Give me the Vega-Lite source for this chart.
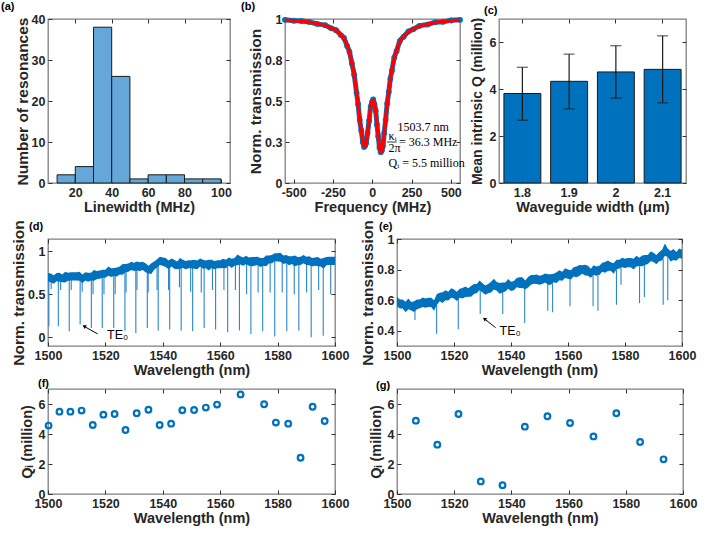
{
  "$schema": "https://vega.github.io/schema/vega-lite/v6.json",
  "padding": {"left": -3, "top": 0, "right": 0, "bottom": 0},
  "background": "white",
  "config": {
    "font": "Liberation Sans",
    "view": {"stroke": "#7f7f7f", "strokeWidth": 1.3},
    "axis": {
      "domain": false,
      "grid": false,
      "labelFont": "Liberation Sans",
      "labelFontSize": 12.5,
      "labelFontWeight": "bold",
      "labelColor": "#262626",
      "labelFlush": false,
      "labelOverlap": false,
      "labelPadding": 7,
      "tickSize": -4,
      "tickColor": "#333333",
      "tickWidth": 1,
      "titleFont": "Liberation Sans",
      "titleFontSize": 14.5,
      "titleFontWeight": "bold",
      "titleColor": "#262626",
      "titlePadding": 2
    },
    "axisY": {"titleFontSize": 15.5, "titlePadding": 1},
    "title": {"font": "Liberation Sans", "fontSize": 11, "fontWeight": "bold", "anchor": "start", "frame": "group", "color": "#000000"}
  },
  "datasets": {
    "hist": [
      {"lo": 10, "hi": 20, "n": 2}, {"lo": 20, "hi": 30, "n": 4}, {"lo": 30, "hi": 40, "n": 38},
      {"lo": 40, "hi": 50, "n": 26}, {"lo": 50, "hi": 60, "n": 1}, {"lo": 60, "hi": 70, "n": 2},
      {"lo": 70, "hi": 80, "n": 2}, {"lo": 80, "hi": 90, "n": 1}, {"lo": 90, "hi": 100, "n": 1}
    ],
    "bMeas": [
      {"f": -555, "t": 0.995}, {"f": -500, "t": 0.99}, {"f": -450, "t": 0.988}, {"f": -400, "t": 0.982},
      {"f": -350, "t": 0.97}, {"f": -300, "t": 0.962}, {"f": -260, "t": 0.943}, {"f": -230, "t": 0.932},
      {"f": -200, "t": 0.902}, {"f": -180, "t": 0.884}, {"f": -160, "t": 0.836}, {"f": -145, "t": 0.8},
      {"f": -130, "t": 0.73}, {"f": -115, "t": 0.66}, {"f": -100, "t": 0.55}, {"f": -90, "t": 0.48},
      {"f": -80, "t": 0.385}, {"f": -70, "t": 0.32}, {"f": -60, "t": 0.25}, {"f": -52, "t": 0.22},
      {"f": -45, "t": 0.228}, {"f": -38, "t": 0.245}, {"f": -30, "t": 0.305}, {"f": -20, "t": 0.38},
      {"f": -10, "t": 0.465}, {"f": 0, "t": 0.498}, {"f": 6, "t": 0.51}, {"f": 14, "t": 0.48},
      {"f": 22, "t": 0.44}, {"f": 30, "t": 0.355}, {"f": 38, "t": 0.285}, {"f": 46, "t": 0.215},
      {"f": 54, "t": 0.188}, {"f": 61, "t": 0.198}, {"f": 68, "t": 0.225}, {"f": 76, "t": 0.305},
      {"f": 85, "t": 0.385}, {"f": 95, "t": 0.485}, {"f": 105, "t": 0.555}, {"f": 115, "t": 0.635},
      {"f": 125, "t": 0.685}, {"f": 140, "t": 0.765}, {"f": 155, "t": 0.805}, {"f": 175, "t": 0.865},
      {"f": 200, "t": 0.892}, {"f": 230, "t": 0.924}, {"f": 260, "t": 0.937}, {"f": 300, "t": 0.958},
      {"f": 350, "t": 0.966}, {"f": 400, "t": 0.98}, {"f": 450, "t": 0.983}, {"f": 500, "t": 0.992},
      {"f": 558, "t": 0.995}
    ],
    "bFit": [
      {"f": -555, "t": 0.993}, {"f": -500, "t": 0.99}, {"f": -450, "t": 0.986}, {"f": -400, "t": 0.98},
      {"f": -350, "t": 0.972}, {"f": -300, "t": 0.96}, {"f": -260, "t": 0.945}, {"f": -230, "t": 0.93},
      {"f": -200, "t": 0.905}, {"f": -180, "t": 0.88}, {"f": -160, "t": 0.84}, {"f": -145, "t": 0.795},
      {"f": -130, "t": 0.735}, {"f": -115, "t": 0.655}, {"f": -100, "t": 0.555}, {"f": -90, "t": 0.475},
      {"f": -80, "t": 0.39}, {"f": -70, "t": 0.315}, {"f": -60, "t": 0.255}, {"f": -52, "t": 0.225},
      {"f": -45, "t": 0.225}, {"f": -38, "t": 0.25}, {"f": -30, "t": 0.3}, {"f": -20, "t": 0.385},
      {"f": -10, "t": 0.46}, {"f": 0, "t": 0.5}, {"f": 6, "t": 0.505}, {"f": 14, "t": 0.485},
      {"f": 22, "t": 0.435}, {"f": 30, "t": 0.36}, {"f": 38, "t": 0.28}, {"f": 46, "t": 0.22},
      {"f": 54, "t": 0.19}, {"f": 61, "t": 0.195}, {"f": 68, "t": 0.23}, {"f": 76, "t": 0.3},
      {"f": 85, "t": 0.39}, {"f": 95, "t": 0.48}, {"f": 105, "t": 0.56}, {"f": 115, "t": 0.63},
      {"f": 125, "t": 0.69}, {"f": 140, "t": 0.76}, {"f": 155, "t": 0.81}, {"f": 175, "t": 0.86},
      {"f": 200, "t": 0.895}, {"f": 230, "t": 0.92}, {"f": 260, "t": 0.94}, {"f": 300, "t": 0.955},
      {"f": 350, "t": 0.968}, {"f": 400, "t": 0.978}, {"f": 450, "t": 0.985}, {"f": 500, "t": 0.99},
      {"f": 558, "t": 0.993}
    ],
    "bText": [
      {"f": 160, "t": 0.34, "s": "1503.7 nm"},
      {"f": 104, "t": 0.287, "s": "κᵢ"},
      {"f": 104, "t": 0.213, "s": "2π"},
      {"f": 170, "t": 0.247, "s": "= 36.3 MHz"},
      {"f": 104, "t": 0.12, "s": "Qᵢ = 5.5 million"}
    ],
    "bRule": [{"f": 94, "f2": 155, "t": 0.25}],
    "qbar": [
      {"w": "1.8", "q": 3.82, "lo": 2.68, "hi": 4.94},
      {"w": "1.9", "q": 4.34, "lo": 3.16, "hi": 5.5},
      {"w": "2", "q": 4.74, "lo": 3.62, "hi": 5.86},
      {"w": "2.1", "q": 4.85, "lo": 3.42, "hi": 6.28}
    ],
    "dBand": [
      {"w": 1500, "lo": 0.65, "hi": 0.745}, {"w": 1501, "lo": 0.635, "hi": 0.74}, {"w": 1502, "lo": 0.62, "hi": 0.72},
      {"w": 1503, "lo": 0.65, "hi": 0.745}, {"w": 1504, "lo": 0.645, "hi": 0.75}, {"w": 1505, "lo": 0.64, "hi": 0.73},
      {"w": 1506, "lo": 0.635, "hi": 0.76}, {"w": 1507, "lo": 0.655, "hi": 0.75}, {"w": 1508, "lo": 0.66, "hi": 0.755},
      {"w": 1509, "lo": 0.66, "hi": 0.755}, {"w": 1510, "lo": 0.66, "hi": 0.755}, {"w": 1511, "lo": 0.655, "hi": 0.76},
      {"w": 1512, "lo": 0.63, "hi": 0.73}, {"w": 1513, "lo": 0.66, "hi": 0.755}, {"w": 1514, "lo": 0.645, "hi": 0.75},
      {"w": 1515, "lo": 0.66, "hi": 0.75}, {"w": 1516, "lo": 0.655, "hi": 0.78}, {"w": 1517, "lo": 0.675, "hi": 0.77},
      {"w": 1518, "lo": 0.68, "hi": 0.775}, {"w": 1519, "lo": 0.69, "hi": 0.785}, {"w": 1520, "lo": 0.69, "hi": 0.785},
      {"w": 1521, "lo": 0.715, "hi": 0.82}, {"w": 1522, "lo": 0.7, "hi": 0.8}, {"w": 1523, "lo": 0.71, "hi": 0.805},
      {"w": 1524, "lo": 0.705, "hi": 0.81}, {"w": 1525, "lo": 0.73, "hi": 0.82}, {"w": 1526, "lo": 0.725, "hi": 0.85},
      {"w": 1527, "lo": 0.755, "hi": 0.85}, {"w": 1528, "lo": 0.76, "hi": 0.855}, {"w": 1529, "lo": 0.78, "hi": 0.875},
      {"w": 1530, "lo": 0.77, "hi": 0.865}, {"w": 1531, "lo": 0.775, "hi": 0.88}, {"w": 1532, "lo": 0.77, "hi": 0.87},
      {"w": 1533, "lo": 0.78, "hi": 0.875}, {"w": 1534, "lo": 0.755, "hi": 0.86}, {"w": 1535, "lo": 0.74, "hi": 0.83},
      {"w": 1536, "lo": 0.735, "hi": 0.86}, {"w": 1537, "lo": 0.785, "hi": 0.88}, {"w": 1538, "lo": 0.81, "hi": 0.905},
      {"w": 1539, "lo": 0.84, "hi": 0.935}, {"w": 1540, "lo": 0.83, "hi": 0.925}, {"w": 1541, "lo": 0.815, "hi": 0.92},
      {"w": 1542, "lo": 0.79, "hi": 0.89}, {"w": 1543, "lo": 0.82, "hi": 0.915}, {"w": 1544, "lo": 0.795, "hi": 0.9},
      {"w": 1545, "lo": 0.79, "hi": 0.88}, {"w": 1546, "lo": 0.795, "hi": 0.92}, {"w": 1547, "lo": 0.805, "hi": 0.9},
      {"w": 1548, "lo": 0.79, "hi": 0.885}, {"w": 1549, "lo": 0.8, "hi": 0.895}, {"w": 1550, "lo": 0.8, "hi": 0.895},
      {"w": 1551, "lo": 0.795, "hi": 0.9}, {"w": 1552, "lo": 0.79, "hi": 0.89}, {"w": 1553, "lo": 0.82, "hi": 0.915},
      {"w": 1554, "lo": 0.795, "hi": 0.9}, {"w": 1555, "lo": 0.8, "hi": 0.89}, {"w": 1556, "lo": 0.775, "hi": 0.9},
      {"w": 1557, "lo": 0.805, "hi": 0.9}, {"w": 1558, "lo": 0.79, "hi": 0.885}, {"w": 1559, "lo": 0.8, "hi": 0.895},
      {"w": 1560, "lo": 0.8, "hi": 0.895}, {"w": 1561, "lo": 0.805, "hi": 0.91}, {"w": 1562, "lo": 0.8, "hi": 0.9},
      {"w": 1563, "lo": 0.83, "hi": 0.925}, {"w": 1564, "lo": 0.805, "hi": 0.91}, {"w": 1565, "lo": 0.83, "hi": 0.92},
      {"w": 1566, "lo": 0.835, "hi": 0.96}, {"w": 1567, "lo": 0.845, "hi": 0.94}, {"w": 1568, "lo": 0.83, "hi": 0.925},
      {"w": 1569, "lo": 0.85, "hi": 0.945}, {"w": 1570, "lo": 0.83, "hi": 0.925}, {"w": 1571, "lo": 0.825, "hi": 0.93},
      {"w": 1572, "lo": 0.83, "hi": 0.93}, {"w": 1573, "lo": 0.84, "hi": 0.935}, {"w": 1574, "lo": 0.815, "hi": 0.92},
      {"w": 1575, "lo": 0.83, "hi": 0.92}, {"w": 1576, "lo": 0.825, "hi": 0.95}, {"w": 1577, "lo": 0.855, "hi": 0.95},
      {"w": 1578, "lo": 0.86, "hi": 0.955}, {"w": 1579, "lo": 0.88, "hi": 0.975}, {"w": 1580, "lo": 0.88, "hi": 0.975},
      {"w": 1581, "lo": 0.875, "hi": 0.98}, {"w": 1582, "lo": 0.85, "hi": 0.95}, {"w": 1583, "lo": 0.86, "hi": 0.955},
      {"w": 1584, "lo": 0.835, "hi": 0.94}, {"w": 1585, "lo": 0.85, "hi": 0.94}, {"w": 1586, "lo": 0.825, "hi": 0.95},
      {"w": 1587, "lo": 0.835, "hi": 0.93}, {"w": 1588, "lo": 0.84, "hi": 0.935}, {"w": 1589, "lo": 0.86, "hi": 0.955},
      {"w": 1590, "lo": 0.84, "hi": 0.935}, {"w": 1591, "lo": 0.835, "hi": 0.94}, {"w": 1592, "lo": 0.82, "hi": 0.92},
      {"w": 1593, "lo": 0.83, "hi": 0.925}, {"w": 1594, "lo": 0.825, "hi": 0.93}, {"w": 1595, "lo": 0.82, "hi": 0.91},
      {"w": 1596, "lo": 0.795, "hi": 0.92}, {"w": 1597, "lo": 0.835, "hi": 0.93}, {"w": 1598, "lo": 0.84, "hi": 0.935},
      {"w": 1599, "lo": 0.84, "hi": 0.935}, {"w": 1600, "lo": 0.84, "hi": 0.935}
    ],
    "dDips": [
      {"w": 1500.3, "lo": 0.13, "hi": 0.66}, {"w": 1503.6, "lo": 0.13, "hi": 0.66}, {"w": 1507.4, "lo": 0.07, "hi": 0.67},
      {"w": 1511.2, "lo": 0.15, "hi": 0.66}, {"w": 1515.1, "lo": 0.11, "hi": 0.67}, {"w": 1518.9, "lo": 0.11, "hi": 0.7},
      {"w": 1522.9, "lo": 0.11, "hi": 0.72}, {"w": 1526.8, "lo": 0.08, "hi": 0.76}, {"w": 1530.6, "lo": 0.05, "hi": 0.79},
      {"w": 1534.6, "lo": 0.11, "hi": 0.77}, {"w": 1538.4, "lo": 0.08, "hi": 0.83}, {"w": 1542.4, "lo": 0.09, "hi": 0.82},
      {"w": 1546.4, "lo": 0.08, "hi": 0.82}, {"w": 1550.4, "lo": 0.07, "hi": 0.81}, {"w": 1554.4, "lo": 0.11, "hi": 0.81},
      {"w": 1558.4, "lo": 0.09, "hi": 0.8}, {"w": 1562.6, "lo": 0.06, "hi": 0.82}, {"w": 1566.7, "lo": 0.08, "hi": 0.85},
      {"w": 1570.7, "lo": 0.04, "hi": 0.84}, {"w": 1574.8, "lo": 0.07, "hi": 0.84}, {"w": 1579.0, "lo": 0.01, "hi": 0.88},
      {"w": 1583.2, "lo": 0.07, "hi": 0.86}, {"w": 1587.4, "lo": 0.08, "hi": 0.84}, {"w": 1591.7, "lo": 0.0, "hi": 0.84},
      {"w": 1595.9, "lo": 0.02, "hi": 0.82},
      {"w": 1501.1, "lo": 0.56, "hi": 0.65}, {"w": 1504.4, "lo": 0.55, "hi": 0.66}, {"w": 1508.1, "lo": 0.55, "hi": 0.67},
      {"w": 1511.9, "lo": 0.53, "hi": 0.66}, {"w": 1515.7, "lo": 0.5, "hi": 0.68}, {"w": 1519.5, "lo": 0.5, "hi": 0.7},
      {"w": 1523.4, "lo": 0.5, "hi": 0.72}, {"w": 1527.2, "lo": 0.52, "hi": 0.77}, {"w": 1531.0, "lo": 0.55, "hi": 0.79},
      {"w": 1534.9, "lo": 0.52, "hi": 0.76}, {"w": 1538.0, "lo": 0.55, "hi": 0.82}, {"w": 1542.0, "lo": 0.55, "hi": 0.82},
      {"w": 1545.8, "lo": 0.58, "hi": 0.82}, {"w": 1549.7, "lo": 0.53, "hi": 0.81}, {"w": 1553.4, "lo": 0.52, "hi": 0.82},
      {"w": 1557.3, "lo": 0.55, "hi": 0.81}, {"w": 1561.3, "lo": 0.55, "hi": 0.82}, {"w": 1565.3, "lo": 0.55, "hi": 0.85},
      {"w": 1569.2, "lo": 0.5, "hi": 0.85}, {"w": 1573.2, "lo": 0.52, "hi": 0.84}, {"w": 1577.4, "lo": 0.52, "hi": 0.87},
      {"w": 1581.6, "lo": 0.52, "hi": 0.88}, {"w": 1585.8, "lo": 0.5, "hi": 0.86}, {"w": 1590.1, "lo": 0.52, "hi": 0.85},
      {"w": 1594.3, "lo": 0.55, "hi": 0.84}, {"w": 1598.5, "lo": 0.5, "hi": 0.85}
    ],
    "dNote": [{"w": 1520.6, "lo": 0.03, "s": "TE₀"}],
    "dArrow": [{"w": 1517.3, "lo": 0.04, "w2": 1512.9, "lo2": 0.122}],
    "dHead": [{"w": 1512.6, "lo": 0.13}],
    "eBand": [
      {"w": 1500, "lo": 0.56, "hi": 0.62}, {"w": 1501, "lo": 0.545, "hi": 0.605}, {"w": 1502, "lo": 0.545, "hi": 0.605},
      {"w": 1503, "lo": 0.52, "hi": 0.59}, {"w": 1504, "lo": 0.54, "hi": 0.61}, {"w": 1505, "lo": 0.532, "hi": 0.588},
      {"w": 1506, "lo": 0.522, "hi": 0.592}, {"w": 1507, "lo": 0.54, "hi": 0.605}, {"w": 1508, "lo": 0.547, "hi": 0.605},
      {"w": 1509, "lo": 0.555, "hi": 0.618}, {"w": 1510, "lo": 0.55, "hi": 0.61}, {"w": 1511, "lo": 0.555, "hi": 0.615},
      {"w": 1512, "lo": 0.555, "hi": 0.615}, {"w": 1513, "lo": 0.53, "hi": 0.6}, {"w": 1514, "lo": 0.57, "hi": 0.64},
      {"w": 1515, "lo": 0.592, "hi": 0.648}, {"w": 1516, "lo": 0.582, "hi": 0.652}, {"w": 1517, "lo": 0.6, "hi": 0.665},
      {"w": 1518, "lo": 0.597, "hi": 0.655}, {"w": 1519, "lo": 0.615, "hi": 0.678}, {"w": 1520, "lo": 0.61, "hi": 0.67},
      {"w": 1521, "lo": 0.595, "hi": 0.655}, {"w": 1522, "lo": 0.615, "hi": 0.675}, {"w": 1523, "lo": 0.61, "hi": 0.68},
      {"w": 1524, "lo": 0.62, "hi": 0.69}, {"w": 1525, "lo": 0.622, "hi": 0.678}, {"w": 1526, "lo": 0.622, "hi": 0.692},
      {"w": 1527, "lo": 0.64, "hi": 0.705}, {"w": 1528, "lo": 0.647, "hi": 0.705}, {"w": 1529, "lo": 0.665, "hi": 0.728},
      {"w": 1530, "lo": 0.65, "hi": 0.71}, {"w": 1531, "lo": 0.635, "hi": 0.695}, {"w": 1532, "lo": 0.645, "hi": 0.705},
      {"w": 1533, "lo": 0.65, "hi": 0.72}, {"w": 1534, "lo": 0.67, "hi": 0.74}, {"w": 1535, "lo": 0.662, "hi": 0.718},
      {"w": 1536, "lo": 0.642, "hi": 0.712}, {"w": 1537, "lo": 0.65, "hi": 0.715}, {"w": 1538, "lo": 0.657, "hi": 0.715},
      {"w": 1539, "lo": 0.675, "hi": 0.738}, {"w": 1540, "lo": 0.66, "hi": 0.72}, {"w": 1541, "lo": 0.665, "hi": 0.725},
      {"w": 1542, "lo": 0.685, "hi": 0.745}, {"w": 1543, "lo": 0.68, "hi": 0.75}, {"w": 1544, "lo": 0.68, "hi": 0.75},
      {"w": 1545, "lo": 0.672, "hi": 0.728}, {"w": 1546, "lo": 0.682, "hi": 0.752}, {"w": 1547, "lo": 0.7, "hi": 0.765},
      {"w": 1548, "lo": 0.707, "hi": 0.765}, {"w": 1549, "lo": 0.705, "hi": 0.768}, {"w": 1550, "lo": 0.7, "hi": 0.76},
      {"w": 1551, "lo": 0.705, "hi": 0.765}, {"w": 1552, "lo": 0.715, "hi": 0.775}, {"w": 1553, "lo": 0.7, "hi": 0.77},
      {"w": 1554, "lo": 0.7, "hi": 0.77}, {"w": 1555, "lo": 0.717, "hi": 0.773}, {"w": 1556, "lo": 0.712, "hi": 0.782},
      {"w": 1557, "lo": 0.73, "hi": 0.795}, {"w": 1558, "lo": 0.727, "hi": 0.785}, {"w": 1559, "lo": 0.745, "hi": 0.808},
      {"w": 1560, "lo": 0.74, "hi": 0.8}, {"w": 1561, "lo": 0.735, "hi": 0.795}, {"w": 1562, "lo": 0.755, "hi": 0.815},
      {"w": 1563, "lo": 0.75, "hi": 0.82}, {"w": 1564, "lo": 0.76, "hi": 0.83}, {"w": 1565, "lo": 0.772, "hi": 0.828},
      {"w": 1566, "lo": 0.762, "hi": 0.832}, {"w": 1567, "lo": 0.76, "hi": 0.825}, {"w": 1568, "lo": 0.747, "hi": 0.805},
      {"w": 1569, "lo": 0.765, "hi": 0.828}, {"w": 1570, "lo": 0.76, "hi": 0.82}, {"w": 1571, "lo": 0.765, "hi": 0.825},
      {"w": 1572, "lo": 0.785, "hi": 0.845}, {"w": 1573, "lo": 0.78, "hi": 0.85}, {"w": 1574, "lo": 0.79, "hi": 0.86},
      {"w": 1575, "lo": 0.792, "hi": 0.848}, {"w": 1576, "lo": 0.772, "hi": 0.842}, {"w": 1577, "lo": 0.8, "hi": 0.865},
      {"w": 1578, "lo": 0.807, "hi": 0.865}, {"w": 1579, "lo": 0.815, "hi": 0.878}, {"w": 1580, "lo": 0.81, "hi": 0.87},
      {"w": 1581, "lo": 0.815, "hi": 0.875}, {"w": 1582, "lo": 0.815, "hi": 0.875}, {"w": 1583, "lo": 0.8, "hi": 0.87},
      {"w": 1584, "lo": 0.82, "hi": 0.89}, {"w": 1585, "lo": 0.822, "hi": 0.878}, {"w": 1586, "lo": 0.822, "hi": 0.892},
      {"w": 1587, "lo": 0.83, "hi": 0.895}, {"w": 1588, "lo": 0.837, "hi": 0.895}, {"w": 1589, "lo": 0.855, "hi": 0.918},
      {"w": 1590, "lo": 0.85, "hi": 0.91}, {"w": 1591, "lo": 0.835, "hi": 0.895}, {"w": 1592, "lo": 0.855, "hi": 0.915},
      {"w": 1593, "lo": 0.86, "hi": 0.93}, {"w": 1594, "lo": 0.89, "hi": 0.97}, {"w": 1595, "lo": 0.882, "hi": 0.938},
      {"w": 1596, "lo": 0.852, "hi": 0.922}, {"w": 1597, "lo": 0.862, "hi": 0.935}, {"w": 1598, "lo": 0.857, "hi": 0.915},
      {"w": 1599, "lo": 0.875, "hi": 0.938}, {"w": 1600, "lo": 0.87, "hi": 0.93}
    ],
    "eDips": [
      {"w": 1506.3, "lo": 0.47, "hi": 0.54}, {"w": 1513.9, "lo": 0.38, "hi": 0.57}, {"w": 1521.5, "lo": 0.41, "hi": 0.61},
      {"w": 1529.2, "lo": 0.51, "hi": 0.66}, {"w": 1537.1, "lo": 0.51, "hi": 0.66}, {"w": 1544.8, "lo": 0.45, "hi": 0.68},
      {"w": 1552.9, "lo": 0.53, "hi": 0.71}, {"w": 1554.6, "lo": 0.52, "hi": 0.71}, {"w": 1560.7, "lo": 0.56, "hi": 0.74},
      {"w": 1568.8, "lo": 0.56, "hi": 0.76}, {"w": 1570.5, "lo": 0.53, "hi": 0.76}, {"w": 1577.0, "lo": 0.57, "hi": 0.8},
      {"w": 1578.6, "lo": 0.7, "hi": 0.81}, {"w": 1585.1, "lo": 0.58, "hi": 0.82}, {"w": 1586.8, "lo": 0.62, "hi": 0.83},
      {"w": 1593.4, "lo": 0.57, "hi": 0.87}, {"w": 1595.0, "lo": 0.6, "hi": 0.88}
    ],
    "eNote": [{"w": 1536.0, "lo": 0.4, "s": "TE₀"}],
    "eArrow": [{"w": 1534.6, "lo": 0.42, "w2": 1531.0, "lo2": 0.473}],
    "eHead": [{"w": 1530.7, "lo": 0.478}],
    "fQ": [
      {"w": 1500.2, "q": 4.56}, {"w": 1504.0, "q": 5.49}, {"w": 1507.8, "q": 5.49}, {"w": 1511.7, "q": 5.56},
      {"w": 1515.6, "q": 4.6}, {"w": 1519.3, "q": 5.29}, {"w": 1523.2, "q": 5.33}, {"w": 1527.0, "q": 4.27},
      {"w": 1530.9, "q": 5.38}, {"w": 1535.0, "q": 5.62}, {"w": 1538.9, "q": 4.6}, {"w": 1542.9, "q": 4.69},
      {"w": 1546.8, "q": 5.58}, {"w": 1550.9, "q": 5.6}, {"w": 1555.0, "q": 5.76}, {"w": 1558.9, "q": 5.96},
      {"w": 1567.1, "q": 6.64}, {"w": 1575.3, "q": 5.98}, {"w": 1579.4, "q": 4.76}, {"w": 1583.7, "q": 4.69},
      {"w": 1588.0, "q": 2.42}, {"w": 1592.2, "q": 5.82}, {"w": 1596.4, "q": 4.87}
    ],
    "gQ": [
      {"w": 1506.6, "q": 4.89}, {"w": 1514.1, "q": 3.29}, {"w": 1521.5, "q": 5.33}, {"w": 1529.3, "q": 0.84},
      {"w": 1536.9, "q": 0.58}, {"w": 1544.7, "q": 4.49}, {"w": 1552.6, "q": 5.18}, {"w": 1560.5, "q": 4.73},
      {"w": 1568.7, "q": 3.84}, {"w": 1576.7, "q": 5.38}, {"w": 1585.0, "q": 3.47}, {"w": 1593.2, "q": 2.31}
    ]
  },
  "spacing": 4,
  "vconcat": [
    {
      "spacing": 55,
      "bounds": "flush",
      "hconcat": [
        {
          "width": 182,
          "height": 164,
          "title": {"text": "(a)", "dx": -47, "offset": 1},
          "data": {"name": "hist"},
          "layer": [
            {
              "mark": {"type": "rect", "fill": "#64a7d8", "stroke": "#1a1a1a", "strokeWidth": 1},
              "encoding": {
                "x": {"field": "lo", "type": "quantitative", "scale": {"domain": [5, 105]},
                      "axis": {"values": [20, 40, 60, 80, 100], "title": "Linewidth (MHz)"}},
                "x2": {"field": "hi"},
                "y": {"field": "n", "type": "quantitative", "scale": {"domain": [0, 40]},
                      "axis": {"values": [0, 10, 20, 30, 40], "title": "Number of resonances"}},
                "y2": {"datum": 0}
              }
            },
            {
              "mark": {"type": "point", "opacity": 0},
              "encoding": {
                "x": {"field": "lo", "type": "quantitative", "scale": {"domain": [5, 105]},
                      "axis": {"orient": "top", "values": [20, 40, 60, 80, 100], "labels": false, "title": null}},
                "y": {"field": "n", "type": "quantitative", "scale": {"domain": [0, 40]},
                      "axis": {"orient": "right", "values": [0, 10, 20, 30, 40], "labels": false, "title": null}}
              }
            },
            {
              "mark": {"type": "point", "opacity": 0},
              "encoding": {
                "y": {"field": "n", "type": "quantitative", "scale": {"domain": [0, 40]},
                      "axis": {"orient": "left", "ticks": false, "labels": false, "title": ".", "titleOpacity": 0,
                               "titleAngle": 0, "titleAlign": "left", "titleBaseline": "middle", "titleX": -50, "titleY": 80, "titleFontSize": 10}}
              }
            }
          ],
          "resolve": {"axis": {"x": "independent", "y": "independent"}}
        },
        {
          "spacing": 39,
          "bounds": "flush",
          "hconcat": [
            {
              "width": 175,
              "height": 164,
              "title": {"text": "(b)", "dx": -44, "offset": -2},
              "data": {"name": "bFit"},
              "layer": [
                {
                  "encoding": {
                    "x": {"field": "f", "type": "quantitative", "scale": {"domain": [-555, 558]},
                          "axis": {"values": [-500, -250, 0, 250, 500], "title": "Frequency (MHz)",
                                   "labelExpr": "(datum.value < 0 ? '-' : '') + abs(datum.value)"}},
                    "y": {"field": "t", "type": "quantitative", "scale": {"domain": [0, 1]},
                          "axis": {"values": [0, 0.25, 0.5, 0.75, 1], "format": "~g", "title": "Norm. transmission"}}
                  },
                  "layer": [
                    {"data": {"name": "bMeas"}, "mark": {"type": "line", "color": "#0072BD", "strokeWidth": 5, "interpolate": "monotone", "strokeCap": "round"}},
                    {"data": {"name": "bMeas"}, "mark": {"type": "circle", "color": "#0072BD", "size": 34, "opacity": 1}},
                    {"data": {"name": "bFit"}, "mark": {"type": "line", "color": "#ff0000", "strokeWidth": 3.5, "interpolate": "monotone"}},
                    {"data": {"name": "bText"}, "mark": {"type": "text", "align": "left", "baseline": "middle", "font": "Liberation Serif", "fontSize": 12, "color": "#000000"},
                     "encoding": {"text": {"field": "s"}}},
                    {"data": {"name": "bRule"}, "mark": {"type": "rule", "color": "#000000", "strokeWidth": 0.8},
                     "encoding": {"x2": {"field": "f2"}}}
                  ]
                },
                {
                  "mark": {"type": "point", "opacity": 0},
                  "encoding": {
                    "x": {"field": "f", "type": "quantitative", "scale": {"domain": [-555, 558]},
                          "axis": {"orient": "top", "values": [-500, -250, 0, 250, 500], "labels": false, "title": null}},
                    "y": {"field": "t", "type": "quantitative", "scale": {"domain": [0, 1]},
                          "axis": {"orient": "right", "values": [0, 0.25, 0.5, 0.75, 1], "labels": false, "title": null}}
                  }
                }
              ],
              "resolve": {"axis": {"x": "independent", "y": "independent"}}
            },
            {
              "width": 187,
              "height": 164,
              "title": {"text": "(c)", "dx": -15, "offset": 1},
              "data": {"name": "qbar"},
              "layer": [
                {
                  "encoding": {
                    "x": {"field": "w", "type": "nominal", "sort": null,
                          "scale": {"paddingInner": 0.21, "paddingOuter": 0.105},
                          "axis": {"labelAngle": 0, "title": "Waveguide width (μm)"}}
                  },
                  "layer": [
                    {
                      "mark": {"type": "bar", "color": "#0072BD", "stroke": "#1a1a1a", "strokeWidth": 1},
                      "encoding": {
                        "y": {"field": "q", "type": "quantitative", "scale": {"domain": [0, 7]},
                              "axis": {"values": [0, 2, 4, 6], "title": "Mean intrinsic Q (million)", "titleFontSize": 14, "titlePadding": 5}}
                      }
                    },
                    {
                      "mark": {"type": "rule", "color": "#1a1a1a", "strokeWidth": 1.2},
                      "encoding": {
                        "y": {"field": "lo", "type": "quantitative", "scale": {"domain": [0, 7]}},
                        "y2": {"field": "hi"}
                      }
                    },
                    {
                      "mark": {"type": "tick", "color": "#1a1a1a", "size": 11, "thickness": 1.2},
                      "encoding": {"y": {"field": "lo", "type": "quantitative", "scale": {"domain": [0, 7]}}}
                    },
                    {
                      "mark": {"type": "tick", "color": "#1a1a1a", "size": 11, "thickness": 1.2},
                      "encoding": {"y": {"field": "hi", "type": "quantitative", "scale": {"domain": [0, 7]}}}
                    }
                  ]
                },
                {
                  "mark": {"type": "point", "opacity": 0},
                  "encoding": {
                    "x": {"field": "w", "type": "nominal", "sort": null,
                          "axis": {"orient": "top", "labels": false, "title": null}},
                    "y": {"field": "q", "type": "quantitative", "scale": {"domain": [0, 7]},
                          "axis": {"orient": "right", "values": [0, 2, 4, 6], "labels": false, "title": null}}
                  }
                }
              ],
              "resolve": {"axis": {"x": "independent", "y": "independent"}}
            }
          ]
        }
      ]
    },
    {
      "spacing": -1,
      "vconcat": [
        {
          "spacing": 62,
          "bounds": "flush",
          "hconcat": [
            {
              "width": 287,
              "height": 107,
              "title": {"text": "(d)", "dx": -19, "offset": -12},
              "data": {"name": "dBand"},
              "layer": [
                {
                  "encoding": {
                    "x": {"field": "w", "type": "quantitative", "scale": {"domain": [1500, 1600]},
                          "axis": {"values": [1500, 1520, 1540, 1560, 1580, 1600], "format": "d", "title": "Wavelength (nm)"}},
                    "y": {"field": "lo", "type": "quantitative", "scale": {"domain": [-0.1, 1.14]},
                          "axis": {"values": [0, 0.5, 1], "format": "~g", "title": "Norm. transmission"}}
                  },
                  "layer": [
                    {"data": {"name": "dDips"}, "mark": {"type": "rule", "color": "#2a86cc", "strokeWidth": 1.1},
                     "encoding": {"y2": {"field": "hi"}}},
                    {"data": {"name": "dBand"}, "mark": {"type": "area", "color": "#0072BD", "opacity": 1},
                     "encoding": {"y2": {"field": "hi"}}},
                    {"data": {"name": "dNote"}, "mark": {"type": "text", "align": "left", "baseline": "middle", "font": "Liberation Sans", "fontSize": 12.5, "color": "#000000"},
                     "encoding": {"text": {"field": "s"}}},
                    {"data": {"name": "dArrow"}, "mark": {"type": "rule", "color": "#000000", "strokeWidth": 1},
                     "encoding": {"x2": {"field": "w2"}, "y2": {"field": "lo2"}}},
                    {"data": {"name": "dHead"}, "mark": {"type": "point", "shape": "triangle-up", "angle": 301, "size": 18, "filled": true, "color": "#000000", "opacity": 1}}
                  ]
                },
                {
                  "mark": {"type": "point", "opacity": 0},
                  "encoding": {
                    "x": {"field": "w", "type": "quantitative", "scale": {"domain": [1500, 1600]},
                          "axis": {"orient": "top", "values": [1500, 1520, 1540, 1560, 1580, 1600], "labels": false, "title": null}},
                    "y": {"field": "lo", "type": "quantitative", "scale": {"domain": [-0.1, 1.14]},
                          "axis": {"orient": "right", "values": [0, 0.5, 1], "labels": false, "title": null}}
                  }
                },
                {
                  "mark": {"type": "point", "opacity": 0},
                  "encoding": {
                    "y": {"field": "lo", "type": "quantitative", "scale": {"domain": [-0.1, 1.14]},
                          "axis": {"orient": "left", "ticks": false, "labels": false, "title": ".", "titleOpacity": 0,
                                   "titleAngle": 0, "titleAlign": "left", "titleBaseline": "middle", "titleX": -50, "titleY": 53, "titleFontSize": 10}}
                  }
                }
              ],
              "resolve": {"axis": {"x": "independent", "y": "independent"}}
            },
            {
              "width": 285,
              "height": 107,
              "title": {"text": "(e)", "dx": -18, "offset": -12},
              "data": {"name": "eBand"},
              "layer": [
                {
                  "encoding": {
                    "x": {"field": "w", "type": "quantitative", "scale": {"domain": [1500, 1600]},
                          "axis": {"values": [1500, 1520, 1540, 1560, 1580, 1600], "format": "d", "title": "Wavelength (nm)"}},
                    "y": {"field": "lo", "type": "quantitative", "scale": {"domain": [0.3, 1]},
                          "axis": {"values": [0.4, 0.6, 0.8, 1], "format": "~g", "title": "Norm. transmission"}}
                  },
                  "layer": [
                    {"data": {"name": "eDips"}, "mark": {"type": "rule", "color": "#2a86cc", "strokeWidth": 1.1},
                     "encoding": {"y2": {"field": "hi"}}},
                    {"data": {"name": "eBand"}, "mark": {"type": "area", "color": "#0072BD", "opacity": 1},
                     "encoding": {"y2": {"field": "hi"}}},
                    {"data": {"name": "eNote"}, "mark": {"type": "text", "align": "left", "baseline": "middle", "font": "Liberation Sans", "fontSize": 12.5, "color": "#000000"},
                     "encoding": {"text": {"field": "s"}}},
                    {"data": {"name": "eArrow"}, "mark": {"type": "rule", "color": "#000000", "strokeWidth": 1},
                     "encoding": {"x2": {"field": "w2"}, "y2": {"field": "lo2"}}},
                    {"data": {"name": "eHead"}, "mark": {"type": "point", "shape": "triangle-up", "angle": 309, "size": 18, "filled": true, "color": "#000000", "opacity": 1}}
                  ]
                },
                {
                  "mark": {"type": "point", "opacity": 0},
                  "encoding": {
                    "x": {"field": "w", "type": "quantitative", "scale": {"domain": [1500, 1600]},
                          "axis": {"orient": "top", "values": [1500, 1520, 1540, 1560, 1580, 1600], "labels": false, "title": null}},
                    "y": {"field": "lo", "type": "quantitative", "scale": {"domain": [0.3, 1]},
                          "axis": {"orient": "right", "values": [0.4, 0.6, 0.8, 1], "labels": false, "title": null}}
                  }
                }
              ],
              "resolve": {"axis": {"x": "independent", "y": "independent"}}
            }
          ]
        },
        {
          "spacing": 62,
          "bounds": "flush",
          "hconcat": [
            {
              "width": 287,
              "height": 105,
              "title": {"text": "(f)", "dx": -10, "offset": -2},
              "data": {"name": "fQ"},
              "layer": [
                {
                  "mark": {"type": "point", "filled": false, "color": "#0072BD", "strokeWidth": 2.2, "size": 32, "opacity": 1},
                  "encoding": {
                    "x": {"field": "w", "type": "quantitative", "scale": {"domain": [1500, 1600]},
                          "axis": {"values": [1500, 1520, 1540, 1560, 1580, 1600], "format": "d", "title": "Wavelength (nm)"}},
                    "y": {"field": "q", "type": "quantitative", "scale": {"domain": [0, 7]},
                          "axis": {"values": [0, 2, 4, 6], "title": "Qᵢ (million)", "titleFontSize": 14.5, "titlePadding": 4}}
                  }
                },
                {
                  "mark": {"type": "point", "opacity": 0},
                  "encoding": {
                    "x": {"field": "w", "type": "quantitative", "scale": {"domain": [1500, 1600]},
                          "axis": {"orient": "top", "values": [1500, 1520, 1540, 1560, 1580, 1600], "labels": false, "title": null}},
                    "y": {"field": "q", "type": "quantitative", "scale": {"domain": [0, 7]},
                          "axis": {"orient": "right", "values": [0, 2, 4, 6], "labels": false, "title": null}}
                  }
                },
                {
                  "mark": {"type": "point", "opacity": 0},
                  "encoding": {
                    "y": {"field": "q", "type": "quantitative", "scale": {"domain": [0, 7]},
                          "axis": {"orient": "left", "ticks": false, "labels": false, "title": ".", "titleOpacity": 0,
                                   "titleAngle": 0, "titleAlign": "left", "titleBaseline": "middle", "titleX": -50, "titleY": 52, "titleFontSize": 10}}
                  }
                }
              ],
              "resolve": {"axis": {"x": "independent", "y": "independent"}}
            },
            {
              "width": 286,
              "height": 105,
              "title": {"text": "(g)", "dx": -21, "offset": -2},
              "data": {"name": "gQ"},
              "layer": [
                {
                  "mark": {"type": "point", "filled": false, "color": "#0072BD", "strokeWidth": 2.2, "size": 32, "opacity": 1},
                  "encoding": {
                    "x": {"field": "w", "type": "quantitative", "scale": {"domain": [1500, 1600]},
                          "axis": {"values": [1500, 1520, 1540, 1560, 1580, 1600], "format": "d", "title": "Wavelength (nm)"}},
                    "y": {"field": "q", "type": "quantitative", "scale": {"domain": [0, 7]},
                          "axis": {"values": [0, 2, 4, 6], "title": "Qᵢ (million)", "titleFontSize": 14.5, "titlePadding": 4}}
                  }
                },
                {
                  "mark": {"type": "point", "opacity": 0},
                  "encoding": {
                    "x": {"field": "w", "type": "quantitative", "scale": {"domain": [1500, 1600]},
                          "axis": {"orient": "top", "values": [1500, 1520, 1540, 1560, 1580, 1600], "labels": false, "title": null}},
                    "y": {"field": "q", "type": "quantitative", "scale": {"domain": [0, 7]},
                          "axis": {"orient": "right", "values": [0, 2, 4, 6], "labels": false, "title": null}}
                  }
                }
              ],
              "resolve": {"axis": {"x": "independent", "y": "independent"}}
            }
          ]
        }
      ]
    }
  ]
}
